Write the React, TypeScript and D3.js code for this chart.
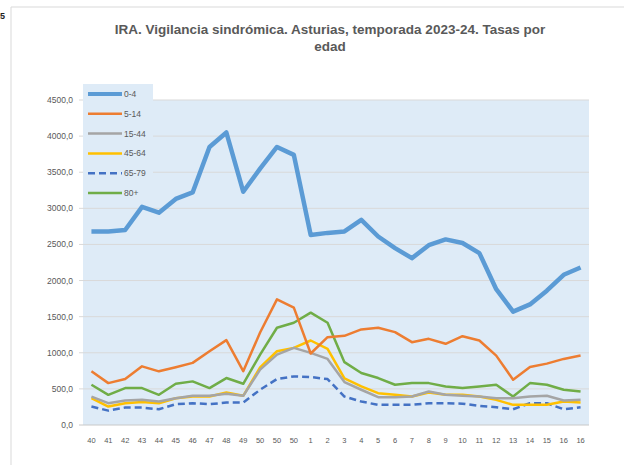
import * as d3 from "d3";
import React, { useEffect, useRef } from "react";

const weeks = ["40", "41", "42", "43", "44", "45", "46", "47", "48", "49", "50", "50", "50", "1", "2", "3", "4", "5", "6", "7", "8", "9", "10", "11", "12", "13", "14", "15", "16", "16"];

const g04 = [2680, 2680, 2700, 3020, 2940, 3130, 3220, 3850, 4050, 3230, 3550, 3850, 3740, 2630, 2660, 2680, 2840, 2610, 2450, 2310, 2490, 2570, 2520, 2380, 1880, 1570, 1670, 1860, 2080, 2180];
const g514 = [745, 580, 636, 812, 743, 800, 860, 1020, 1175, 745, 1280, 1740, 1625, 990, 1216, 1235, 1323, 1347, 1286, 1147, 1193, 1124, 1230, 1170, 961, 627, 803, 850, 915, 961];
const g1544 = [394, 302, 339, 348, 325, 371, 404, 404, 432, 404, 766, 975, 1068, 998, 915, 595, 488, 385, 385, 394, 464, 418, 404, 394, 371, 371, 394, 404, 339, 348];
const g4564 = [371, 255, 302, 320, 302, 371, 394, 394, 450, 404, 799, 1021, 1068, 1170, 1054, 645, 534, 441, 418, 394, 450, 418, 418, 394, 348, 279, 279, 279, 325, 311];
const g6579 = [255, 199, 241, 241, 218, 288, 302, 288, 311, 311, 488, 636, 673, 664, 636, 394, 325, 279, 279, 279, 302, 302, 295, 265, 246, 218, 302, 302, 218, 246];
const g80 = [557, 418, 511, 511, 418, 571, 604, 511, 650, 571, 975, 1347, 1416, 1555, 1416, 870, 720, 650, 557, 580, 580, 534, 511, 534, 557, 394, 580, 557, 488, 464];

const seriesNames = ["0-4", "5-14", "15-44", "45-64", "65-79", "80+"];
const seriesColors = ["#5b9bd5", "#ed7d31", "#a5a5a5", "#ffc000", "#4472c4", "#70ad47"];
const yTicks = [0, 500, 1000, 1500, 2000, 2500, 3000, 3500, 4000, 4500];

function Chart() {
  const ref = useRef<SVGSVGElement>(null);

  useEffect(() => {
    const svg = d3.select(ref.current);
    svg.selectAll("*").remove();

    const font = "'Liberation Sans', Arial, sans-serif";
    const txt = "#595959";
    const left = 83, right = 589, top = 100, bottom = 425;

    // outer frame
    svg.append("line").attr("x1", 11).attr("x2", 11).attr("y1", 7).attr("y2", 465).attr("stroke", "#d9d9d9");
    svg.append("line").attr("x1", 11).attr("x2", 624).attr("y1", 7).attr("y2", 7).attr("stroke", "#d9d9d9");
    svg.append("text").attr("x", 0).attr("y", 19).attr("font-family", font).attr("font-weight", "bold")
      .attr("font-size", 9).attr("fill", "#222").text("5");

    svg.append("text").attr("x", 330).attr("y", 34).attr("text-anchor", "middle").attr("font-family", font)
      .attr("font-weight", "bold").attr("font-size", 13.5).attr("fill", txt)
      .text("IRA. Vigilancia sindrómica. Asturias, temporada 2023-24. Tasas por");
    svg.append("text").attr("x", 330).attr("y", 51).attr("text-anchor", "middle").attr("font-family", font)
      .attr("font-weight", "bold").attr("font-size", 13.5).attr("fill", txt).text("edad");

    const x = d3.scalePoint<number>().domain(d3.range(weeks.length)).range([left, right]).padding(0.5);
    const y = d3.scaleLinear().domain([0, 4500]).range([bottom, top]);

    svg.append("rect").attr("x", left).attr("y", top).attr("width", right - left).attr("height", bottom - top)
      .attr("fill", "#deebf7");

    const fmt = (v: number) => d3.format(".1f")(v).replace(".", ",");
    yTicks.forEach((t) => {
      svg.append("line").attr("x1", 79).attr("x2", right).attr("y1", y(t)).attr("y2", y(t))
        .attr("stroke", t === 0 ? "#c8c8c8" : "#d9d9d9").attr("stroke-width", 1);
      svg.append("text").attr("x", 73).attr("y", y(t) + 3).attr("text-anchor", "end").attr("font-family", font)
        .attr("font-size", 8.5).attr("fill", txt).text(fmt(t));
    });

    weeks.forEach((w, i) => {
      svg.append("text").attr("x", x(i)!).attr("y", 443).attr("text-anchor", "middle").attr("font-family", font)
        .attr("font-size", 7.5).attr("fill", txt).text(w);
    });

    const all = [g04, g514, g1544, g4564, g6579, g80];
    const line = d3.line<number>().x((_, i) => x(i)!).y((d) => y(d));
    const order = [5, 4, 3, 2, 1, 0];
    order.forEach((k) => {
      svg.append("path").datum(all[k]).attr("d", line).attr("fill", "none")
        .attr("stroke", seriesColors[k]).attr("stroke-width", k === 0 ? 4.5 : 2.5)
        .attr("stroke-linejoin", "round")
        .attr("stroke-dasharray", k === 4 ? "7,4" : null);
    });

    // legend
    const lg = svg.append("g");
    lg.append("rect").attr("x", left).attr("y", 84).attr("width", 70).attr("height", 120).attr("fill", "#deebf7");
    seriesNames.forEach((n, k) => {
      const yy = 94 + k * 19.8;
      lg.append("line").attr("x1", 88).attr("x2", 122).attr("y1", yy).attr("y2", yy)
        .attr("stroke", seriesColors[k]).attr("stroke-width", k === 0 ? 4 : 2.5)
        .attr("stroke-dasharray", k === 4 ? "7,4" : null);
      lg.append("text").attr("x", 124).attr("y", yy + 3).attr("font-family", font).attr("font-size", 8.5)
        .attr("fill", txt).text(n);
    });
  }, []);

  return <svg ref={ref} width={624} height={465} style={{ display: "block", background: "#fff" }} />;
}

export default function App() {
  return (
    <div style={{ position: "fixed", left: 0, top: 0, width: 624, height: 465, overflow: "hidden", background: "#fff" }}>
      <Chart />
    </div>
  );
}
